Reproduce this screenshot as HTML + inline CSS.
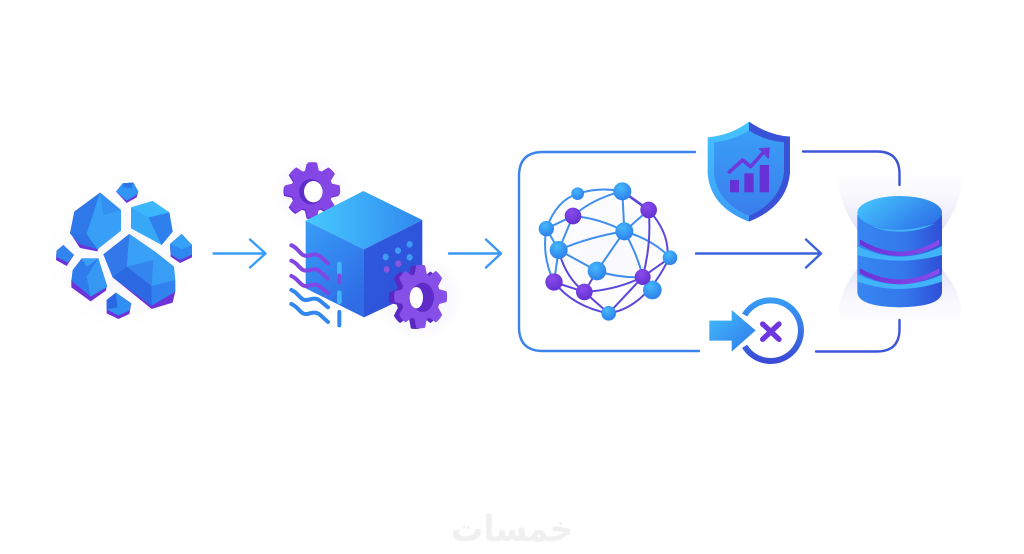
<!DOCTYPE html>
<html><head><meta charset="utf-8"><style>
html,body{margin:0;padding:0;background:#fff;width:1024px;height:554px;overflow:hidden}
svg{display:block}
</style></head><body>
<svg width="1024" height="554" viewBox="0 0 1024 554" xmlns="http://www.w3.org/2000/svg">
<defs>
<linearGradient id="top" x1="0" y1=".5" x2="1" y2=".5"><stop offset="0" stop-color="#47caff"/><stop offset="1" stop-color="#3088ef"/></linearGradient>
<linearGradient id="left" x1="0" y1="0" x2=".6" y2="1"><stop offset="0" stop-color="#389ef6"/><stop offset="1" stop-color="#2f6ce6"/></linearGradient>
<linearGradient id="right" x1="0" y1="0" x2="1" y2="1"><stop offset="0" stop-color="#2c5cde"/><stop offset="1" stop-color="#2f4ed8"/></linearGradient>
<linearGradient id="cyl" x1="0" y1="0" x2="1" y2="0"><stop offset="0" stop-color="#3587f1"/><stop offset=".55" stop-color="#3478ec"/><stop offset="1" stop-color="#2f4fd8"/></linearGradient>
<linearGradient id="cyltop" x1="0" y1="0" x2="1" y2=".5"><stop offset="0" stop-color="#47caff"/><stop offset="1" stop-color="#2f78ea"/></linearGradient>
<linearGradient id="purp" x1="0" y1="0" x2="1" y2="0"><stop offset="0" stop-color="#6a32d8"/><stop offset="1" stop-color="#8a4cec"/></linearGradient>
<linearGradient id="ring" x1="0" y1="0" x2="0" y2="1"><stop offset="0" stop-color="#389cf5"/><stop offset="1" stop-color="#3a4cd6"/></linearGradient>
<linearGradient id="arr" x1="0" y1="0" x2="1" y2="1"><stop offset="0" stop-color="#42bdfc"/><stop offset="1" stop-color="#2f78ea"/></linearGradient>
<linearGradient id="shL" x1="0" y1="0" x2="0" y2="1"><stop offset="0" stop-color="#46c4fe"/><stop offset="1" stop-color="#3c9cf6"/></linearGradient>
<linearGradient id="shI" x1="0" y1="0" x2="0" y2="1"><stop offset="0" stop-color="#3a9ef6"/><stop offset="1" stop-color="#3a7eec"/></linearGradient>
<radialGradient id="nb" cx=".4" cy=".3" r=".8"><stop offset="0" stop-color="#45b8fc"/><stop offset="1" stop-color="#2a78e8"/></radialGradient>
<radialGradient id="np" cx=".4" cy=".3" r=".8"><stop offset="0" stop-color="#8a4cec"/><stop offset="1" stop-color="#5f2dcf"/></radialGradient>
<radialGradient id="glow"><stop offset="0" stop-color="#e6e3f8" stop-opacity=".75"/><stop offset=".7" stop-color="#efeefb" stop-opacity=".45"/><stop offset="1" stop-color="#fff" stop-opacity="0"/></radialGradient>
<linearGradient id="haloT" x1="0" y1="0" x2="0" y2="1"><stop offset="0" stop-color="#fff" stop-opacity="0"/><stop offset="1" stop-color="#dfdcf5"/></linearGradient>
<linearGradient id="haloB" x1="0" y1="1" x2="0" y2="0"><stop offset="0" stop-color="#fff" stop-opacity="0"/><stop offset="1" stop-color="#dfdcf5"/></linearGradient>
<g id="teeth">
<path id="t" d="M56 -20L82 -14Q85 0 82 14L56 20Z"/>
<path transform="rotate(45)" d="M56 -20L82 -14Q85 0 82 14L56 20Z"/>
<path transform="rotate(90)" d="M56 -20L82 -14Q85 0 82 14L56 20Z"/>
<path transform="rotate(135)" d="M56 -20L82 -14Q85 0 82 14L56 20Z"/>
<path transform="rotate(180)" d="M56 -20L82 -14Q85 0 82 14L56 20Z"/>
<path transform="rotate(225)" d="M56 -20L82 -14Q85 0 82 14L56 20Z"/>
<path transform="rotate(270)" d="M56 -20L82 -14Q85 0 82 14L56 20Z"/>
<path transform="rotate(315)" d="M56 -20L82 -14Q85 0 82 14L56 20Z"/>
<circle r="62"/>
</g>
</defs>
<rect width="1024" height="554" fill="#fff"/>

<!-- soft glows -->
<circle cx="122" cy="255" r="82" fill="url(#glow)" opacity=".4"/>
<circle cx="312" cy="192" r="42" fill="url(#glow)" opacity=".7"/>
<circle cx="420" cy="298" r="48" fill="url(#glow)" opacity=".7"/>
<circle cx="608" cy="253" r="80" fill="url(#glow)" opacity=".3"/>

<!-- DB halos -->
<g transform="translate(820,140) scale(.3333)">
<path d="M55 120 Q70 60 240 60 Q410 60 425 120 Q425 190 366 270 L112 270 Q55 190 55 120Z" fill="url(#haloT)" opacity=".85"/>
<path d="M55 520 Q55 460 112 385 L366 385 Q425 460 425 520 Q410 590 240 590 Q70 590 55 520Z" fill="url(#haloB)" opacity=".8"/>
</g>

<!-- connectors -->
<g fill="none" stroke-linecap="round" stroke-linejoin="round" stroke-width="2.4">
<path d="M213.500 253.500H265M250 239.500L265.500 253.500L250 267.500" stroke="#3b9df6"/>
<path d="M449 253.500H500.500M486 239.500L501 253.500L486 267.500" stroke="#3b97f4"/>
<path d="M695 152H543Q519 152 519 176V327Q519 351 543 351H699" stroke="#3d83ee"/>
<path d="M696 253.500H820M806 239.500L821 253.500L806 267.500" stroke="#3c62dc"/>
<path d="M803 151.500H877Q899.500 151.500 899.500 174V185" stroke="#3d55d8"/>
<path d="M816 351.500H877Q899.500 351.500 899.500 329V320" stroke="#3d55d8"/>
</g>

<!-- rocks -->
<g transform="translate(40,160) scale(.3333)">
<path d="M90 218L120 264L172 274L180 255L100 215Z" fill="#6d32d8"/>
<path d="M180 98L243 150V212L172 268L120 252L90 220L103 155Z" fill="#3184ee"/>
<path d="M180 98L103 155L90 220L140 222Z" fill="#2f78ea"/>
<path d="M180 98L243 150V212L172 268L140 222Z" fill="#37a0f6"/>
<path d="M90 220L140 222L172 268L120 252Z" fill="#2e72e8"/>
<path d="M180 98L243 150L190 165Z" fill="#3390f2"/>
<path d="M228 95L248 70L280 68L295 95L290 112L260 129Z" fill="#6d32d8"/>
<path d="M228 95L248 70L280 68L295 95L288 106L260 122Z" fill="#3096f3"/>
<path d="M248 70L280 68L274 84L250 82Z" fill="#2d74e8"/>
<path d="M273 142L338 123L388 157L398 215L365 255L273 205Z" fill="#37a8f8"/>
<path d="M325 172L388 157L398 215L365 255Z" fill="#2f80ed"/>
<path d="M273 142L338 123L388 157L325 172Z" fill="#3cb6fc"/>
<path d="M425 222L456 255V292L420 309L392 290L390 252Z" fill="#6d32d8"/>
<path d="M425 222L456 255V284L420 300L392 283L390 252Z" fill="#2f88f0"/>
<path d="M425 222L390 252L425 268L456 255Z" fill="#36a0f6"/>
<path d="M218 352L335 447L398 428L406 395L335 420Z" fill="#6d32d8"/>
<path d="M268 222L345 275L402 320L406 395L335 437L218 352L190 283Z" fill="#3585ef"/>
<path d="M268 222L260 320L340 300L345 275Z" fill="#38a0f6"/>
<path d="M345 275L402 320L406 360L335 378L340 300Z" fill="#379df5"/>
<path d="M268 222L190 283L218 352L260 320Z" fill="#3278ea"/>
<path d="M218 352L260 320L335 378L335 437Z" fill="#2d68e3"/>
<path d="M335 378L406 360L406 395L335 437Z" fill="#3182ee"/>
<path d="M70 255L102 285L80 318L48 300L50 272Z" fill="#6d32d8"/>
<path d="M70 255L102 285L84 308L48 290L50 272Z" fill="#2f84ee"/>
<path d="M94 360L152 408L200 378L198 392L152 424L94 382Z" fill="#6d32d8"/>
<path d="M125 295L175 295L202 380L152 410L94 362L98 330Z" fill="#2f7cec"/>
<path d="M175 295L202 380L152 410L140 350Z" fill="#3698f3"/>
<path d="M125 295L175 295L140 320Z" fill="#3a9ff6"/>
<path d="M200 420L228 398L274 430L268 462L235 477L200 460Z" fill="#6d32d8"/>
<path d="M200 420L228 398L274 430L268 452L235 466L200 448Z" fill="#3090f1"/>
<path d="M228 398L200 420L200 448L232 442Z" fill="#2b68e4"/>
</g>

<!-- cube + gears -->
<g transform="translate(270,150) scale(.3333)">
<g transform="translate(127,120)">
<use href="#teeth" fill="#6a30d6" transform="translate(-3,4)"/>
<use href="#teeth" fill="#8546e6"/>
<ellipse cx="-4" cy="5" rx="36" ry="38" fill="#5f2cc9"/>
<ellipse cx="3" cy="5" rx="28" ry="32" fill="#fff"/>
</g>
<path d="M280 123L457 210L282 298L107 212Z" fill="url(#top)"/>
<path d="M107 212L282 298V502L107 415Z" fill="url(#left)"/>
<path d="M282 298L457 210V420L282 502Z" fill="url(#right)"/>
<g fill="#3f9cf5">
<ellipse cx="347" cy="321" rx="9" ry="10"/><ellipse cx="384" cy="302" rx="9" ry="10"/><ellipse cx="419" cy="283" rx="9" ry="10"/><ellipse cx="419" cy="322" rx="9" ry="10"/>
</g>
<g fill="#8a55e0"><ellipse cx="350" cy="358" rx="9" ry="10"/><ellipse cx="385" cy="341" rx="9" ry="10"/></g>
<g fill="none" stroke-linecap="round" stroke-width="12">
<g stroke="#8146e4">
<path d="M64 286C90 295 90 325 120 316C145 308 150 320 174 340"/>
<path d="M64 332C90 342 90 370 120 360C145 352 150 366 174 386"/>
<path d="M64 378C90 388 90 416 120 406C145 398 150 412 174 430"/>
</g>
<g stroke="#3286ee">
<path d="M64 420C90 430 90 458 120 448C145 440 150 454 174 472"/>
<path d="M64 462C90 472 90 500 120 490C145 482 150 496 174 516"/>
</g>
<path d="M208 342V372" stroke="#42b4f9" stroke-width="14"/>
<path d="M208 375V398" stroke="#7c4ae0" stroke-width="10"/>
<path d="M208 428V456" stroke="#42b4f9" stroke-width="14"/>
<path d="M208 486V526" stroke="#3286ee"/>
</g>
<g transform="translate(452,440)">
<use href="#teeth" fill="#5a28c2" transform="translate(-16,2) scale(.95,1.14)"/>
<use href="#teeth" fill="#8650e8" transform="scale(.95,1.14)"/>
<ellipse cx="6" cy="2" rx="34" ry="44" fill="#5f2cc9"/>
<ellipse cx="-13" cy="3" rx="20" ry="32" fill="#fff"/>
</g>
</g>

<!-- network sphere -->
<g transform="translate(510,170) scale(.3333)">
<g fill="none" stroke-width="6">
<g stroke="#3f8ef0">
<path d="M109 176Q140 90 203 71"/><path d="M203 71Q270 50 337 64"/><path d="M109 176L189 138"/><path d="M189 138Q250 85 337 64"/>
<path d="M109 176L146 240"/><path d="M189 138L146 240"/><path d="M189 138Q270 145 343 184"/><path d="M146 240Q240 200 343 184"/>
<path d="M337 64L343 184"/><path d="M343 184L416 120"/><path d="M343 184L261 303"/><path d="M146 240L261 303"/>
<path d="M343 184Q385 260 398 321"/><path d="M343 184Q430 210 480 263"/><path d="M109 176Q95 260 132 336"/><path d="M146 240L132 336"/>
<path d="M261 303Q330 325 398 321"/>
</g>
<g stroke="#5a48dc">
<path d="M337 64L416 120" stroke-width="8"/><path d="M416 120Q425 220 398 321"/><path d="M416 120Q480 190 472 263"/>
<path d="M146 240Q165 320 223 366"/><path d="M132 336L223 366"/><path d="M223 366L261 303"/>
<path d="M223 366Q320 360 398 321"/><path d="M398 321L480 263"/><path d="M132 336Q190 410 296 430"/>
<path d="M223 366L296 430"/><path d="M296 430L398 321"/><path d="M296 430Q400 415 472 275"/>
</g>
</g>
<circle cx="203" cy="71" r="19" fill="url(#nb)"/><circle cx="337" cy="64" r="27" fill="url(#nb)"/><circle cx="109" cy="176" r="23" fill="url(#nb)"/><circle cx="343" cy="184" r="27" fill="url(#nb)"/><circle cx="146" cy="240" r="27" fill="url(#nb)"/><circle cx="261" cy="303" r="28" fill="url(#nb)"/><circle cx="480" cy="263" r="22" fill="url(#nb)"/><circle cx="427" cy="360" r="28" fill="url(#nb)"/><circle cx="296" cy="430" r="22" fill="url(#nb)"/>
<circle cx="189" cy="138" r="25" fill="url(#np)"/><circle cx="416" cy="120" r="25" fill="url(#np)"/><circle cx="132" cy="336" r="26" fill="url(#np)"/><circle cx="223" cy="366" r="25" fill="url(#np)"/><circle cx="398" cy="321" r="24" fill="url(#np)"/>
</g>

<!-- shield -->
<g transform="translate(690,110) scale(.3333)">
<path d="M177 35Q125 75 53 82V190Q60 290 177 335Z" fill="url(#shL)"/>
<path d="M177 35Q235 75 300 80V190Q290 290 177 335Z" fill="#3a52d8"/>
<path d="M177 62Q125 92 72 97V190Q80 275 177 318Q270 275 282 190V97Q225 92 177 62Z" fill="url(#shI)"/>
<rect x="120" y="210" width="27" height="37" fill="#6632d6"/><rect x="163" y="190" width="28" height="57" fill="#6632d6"/><rect x="209" y="165" width="28" height="82" fill="#6632d6"/>
<path d="M118 186L158 150L182 170L222 125" fill="none" stroke="#6d38dc" stroke-width="11" stroke-linecap="round" stroke-linejoin="round"/>
<path d="M205 115L240 112L236 148Z" fill="#6d38dc"/>
</g>

<!-- x circle -->
<g transform="translate(690,280) scale(.3333)">
<path d="M164 105A91 91 0 1 1 164 199" fill="none" stroke="url(#ring)" stroke-width="18"/>
<path d="M58 122H125V90L197 151L125 215V182H58Z" fill="url(#arr)"/>
<path d="M218 132L267 178M267 132L218 178" stroke="#6e36de" stroke-width="16" stroke-linecap="round"/>
</g>

<!-- database -->
<g transform="translate(820,140) scale(.3333)">
<path d="M112 225V455Q112 500 239 502Q366 500 366 455V225Z" fill="url(#cyl)"/>
<path d="M112 318Q239 382 366 318V345Q239 379 112 345Z" fill="#41b4f9"/>
<path d="M120 298Q239 372 358 298V314Q239 382 120 314Z" fill="url(#purp)"/>
<path d="M112 403Q239 462 366 403V425Q239 469 112 425Z" fill="#41b4f9"/>
<path d="M120 385Q239 451 358 385V400Q239 466 120 400Z" fill="url(#purp)"/>
<ellipse cx="239" cy="218" rx="127" ry="50" fill="url(#cyltop)"/>
<path d="M150 256Q240 285 345 250Q300 275 239 275Q190 275 150 256Z" fill="#41b4f9"/>
</g>

<!-- watermark -->
<text x="512" y="541" text-anchor="middle" font-family="'DejaVu Sans','Noto Sans CJK SC',sans-serif" font-size="36" font-weight="bold" fill="#f0f0f0" direction="rtl" textLength="122" lengthAdjust="spacingAndGlyphs">خمسات</text>
</svg>
</body></html>
